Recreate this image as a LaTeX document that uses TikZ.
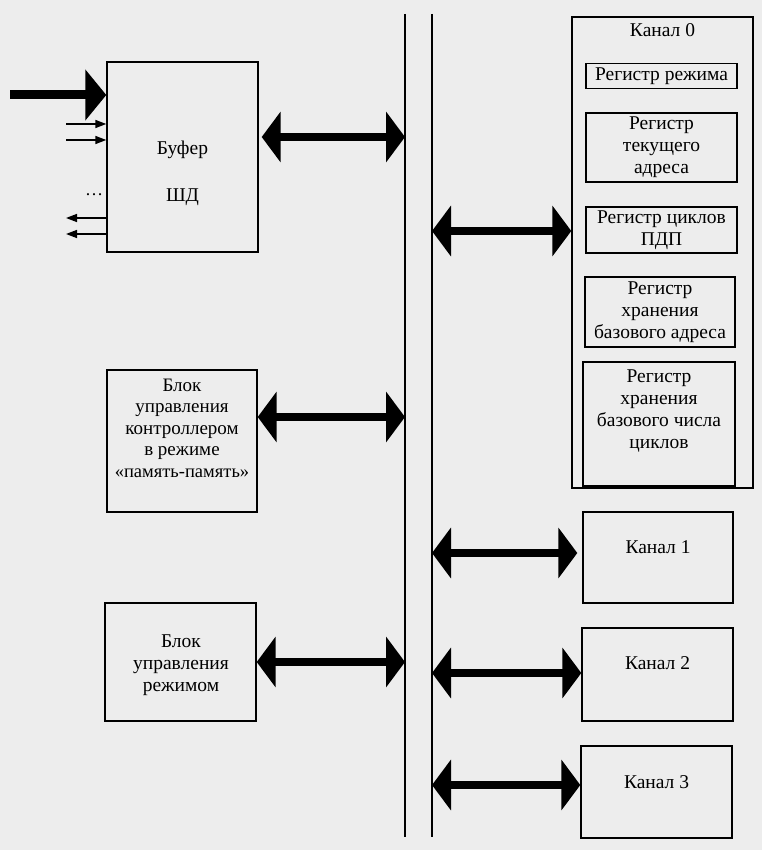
\documentclass[tikz,border=0pt]{standalone}
\usepackage{fontspec}
\setmainfont{Liberation Serif}
\usetikzlibrary{arrows.meta}
\begin{document}
\begin{tikzpicture}[x=1pt,y=-1pt,
  box/.style={draw, line width=1.4pt, inner sep=0pt},
  txt/.style={font=\fontsize{19.5}{22}\selectfont, align=center, inner sep=0pt},
  busline/.style={line width=1.6pt},
  bus/.style={line width=8pt, {Triangle[length=19pt,width=50pt]}-{Triangle[length=19pt,width=50pt]}},
  bigin/.style={line width=9pt, -{Triangle[length=21pt,width=50pt]}},
  sig/.style={line width=1.5pt, -{Triangle[length=11pt,width=8pt]}}]
\fill[black!7] (0,0) rectangle (762,850);
\useasboundingbox (0,0) rectangle (762,850);

% bus lines
\coordinate (bLt) at (405,14);
\coordinate (bLb) at (405,837);
\coordinate (bRt) at (432,14);
\coordinate (bRb) at (432,837);
\draw[busline] (bLt) -- (bLb);
\draw[busline] (bRt) -- (bRb);

% buffer
\node[box, minimum width=151pt, minimum height=190pt] (buf) at (182.5,157) {};
\node[txt] (buft1) at (182.5,150) {Буфер};
\node[txt] (buft2) at (182.5,197) {ШД};
\node[font=\fontsize{18}{18}\selectfont, inner sep=0pt] (dots) at (94,195) {\dots};

% inputs / outputs of buffer
\coordinate (in0) at (10,95);
\coordinate (in1) at (66,124);
\coordinate (in2) at (66,140);
\coordinate (out1) at (66,218);
\coordinate (out2) at (66,234);
\draw[bigin] (in0) -- (buf.west |- in0);
\draw[sig] (in1) -- (buf.west |- in1);
\draw[sig] (in2) -- (buf.west |- in2);
\draw[sig] (buf.west |- out1) -- (out1);
\draw[sig] (buf.west |- out2) -- (out2);

% control blocks
\node[box, minimum width=150pt, minimum height=142pt] (ctl) at (182,441) {};
\node[txt, font=\fontsize{19}{21.5}\selectfont] (ctlt) at (182,428) {Блок\\управления\\контроллером\\в режиме\\{\fontsize{18.5}{21.5}\selectfont «память-память»}};
\node[box, txt, minimum width=151pt, minimum height=118pt] (mode) at (180.5,662) {};
\node[txt] (modet) at (181,665) {Блок\\управления\\режимом};

% channel 0
\node[box, minimum width=181pt, minimum height=471pt] (ch0) at (662.5,252.5) {};
\node[txt] (ch0t) at (662.5,30) {Канал 0};
\node[box, txt, minimum width=151pt, minimum height=25pt] (r1) at (661.5,76) {Регистр режима};
\node[box, txt, minimum width=151pt, minimum height=69pt] (r2) at (661.5,147.5) {Регистр\\текущего\\адреса};
\node[box, txt, minimum width=151pt, minimum height=46pt] (r3) at (661.5,230) {Регистр циклов\\ПДП};
\node[box, txt, minimum width=150pt, minimum height=70pt] (r4) at (660,312) {Регистр\\хранения\\базового адреса};
\node[box, minimum width=152pt, minimum height=124pt] (r5) at (659,424) {};
\node[txt] (r5t) at (659,411) {Регистр\\хранения\\базового числа\\циклов};

% channels 1-3
\node[box, minimum width=150pt, minimum height=91pt] (ch1) at (658,557.5) {};
\node[txt] (ch1t) at (658,547) {Канал 1};
\node[box, minimum width=151pt, minimum height=93pt] (ch2) at (657.5,674.5) {};
\node[txt] (ch2t) at (657.5,663) {Канал 2};
\node[box, minimum width=151pt, minimum height=92pt] (ch3) at (656.5,792) {};
\node[txt] (ch3t) at (656.5,782) {Канал 3};

% bus arrows
\coordinate (y1) at (0,137);
\coordinate (y2) at (0,417);
\coordinate (y3) at (0,662);
\draw[bus] ([xshift=3pt]buf.east |- y1) -- (bLt |- y1);
\draw[bus] (ctl.east |- y2) -- (bLt |- y2);
\draw[bus] (mode.east |- y3) -- (bLt |- y3);

\coordinate (z0) at (0,231);
\coordinate (z1) at (0,553);
\coordinate (z2) at (0,673);
\coordinate (z3) at (0,785);
\draw[bus] (bRt |- z0) -- (ch0.west |- z0);
\draw[bus] (bRt |- z1) -- ([xshift=-5pt]ch1.west |- z1);
\draw[bus] (bRt |- z2) -- (ch2.west |- z2);
\draw[bus] (bRt |- z3) -- (ch3.west |- z3);
\end{tikzpicture}
\end{document}
